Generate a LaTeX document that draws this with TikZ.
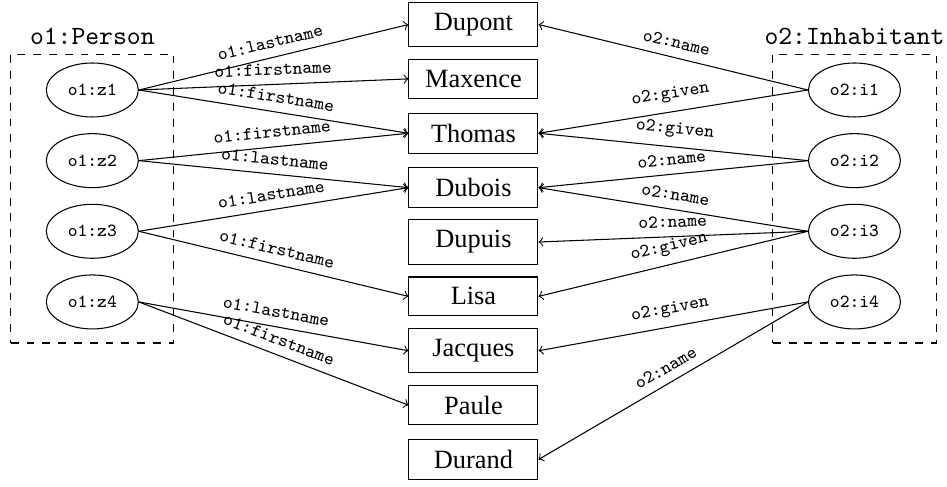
\documentclass[tikz,border=0pt]{standalone}
\usepackage{fontspec}
\setmainfont{Liberation Serif}
\usetikzlibrary{shapes}

\begin{document}
\begin{tikzpicture}
\tikzstyle{val}=[rectangle,draw,minimum width=1.72cm,inner sep=4pt]
\tikzstyle{res}=[ellipse,draw,minimum width=1.227cm,minimum height=0.72cm,inner sep=1pt,font=\ttfamily\scriptsize]
\tikzstyle{group}=[rectangle,draw,dashed,minimum width=2.177cm,minimum height=3.853cm]
\tikzstyle{prop}=[font=\ttfamily\scriptsize,sloped,above,midway]
\useasboundingbox (0,0) rectangle (12.627,-6.493);
\foreach \n [count=\i] in {Dupont,Maxence,Thomas,Dubois,Dupuis,Lisa,Jacques,Paule,Durand}
  \node[val] (\n) at (6.313,{-0.327-0.725*(\i-1)}) {\n};
\foreach \i in {1,...,4}{
  \node[res] (z\i) at (1.231,{-1.2-0.942*(\i-1)}) {o1:z\i};
  \node[res] (i\i) at (11.393,{-1.2-0.942*(\i-1)}) {o2:i\i};
}
\node[group] (person) at (1.231,-2.647) {};
\node[group] (inhabitant) at (11.393,-2.647) {};
\node[above,font=\ttfamily] (personlbl) at (person.north) {o1:Person};
\node[above,font=\ttfamily] (inhabitantlbl) at (inhabitant.north) {o2:Inhabitant};
\draw[->] (z1.east) -- node[prop] {o1:lastname} (Dupont.west);
\draw[->] (z1.east) -- node[prop] {o1:firstname} (Maxence.west);
\draw[->] (z1.east) -- node[prop] {o1:firstname} (Thomas.west);
\draw[->] (z2.east) -- node[prop] {o1:firstname} (Thomas.west);
\draw[->] (z2.east) -- node[prop] {o1:lastname} (Dubois.west);
\draw[->] (z3.east) -- node[prop] {o1:lastname} (Dubois.west);
\draw[->] (z3.east) -- node[prop] {o1:firstname} (Lisa.west);
\draw[->] (z4.east) -- node[prop] {o1:lastname} (Jacques.west);
\draw[->] (z4.east) -- node[prop] {o1:firstname} (Paule.west);
\draw[->] (i1.west) -- node[prop] {o2:name} (Dupont.east);
\draw[->] (i1.west) -- node[prop] {o2:given} (Thomas.east);
\draw[->] (i2.west) -- node[prop] {o2:given} (Thomas.east);
\draw[->] (i2.west) -- node[prop] {o2:name} (Dubois.east);
\draw[->] (i3.west) -- node[prop] {o2:name} (Dubois.east);
\draw[->] (i3.west) -- node[prop] {o2:name} (Dupuis.east);
\draw[->] (i3.west) -- node[prop] {o2:given} (Lisa.east);
\draw[->] (i4.west) -- node[prop] {o2:given} (Jacques.east);
\draw[->] (i4.west) -- node[prop] {o2:name} (Durand.east);
\end{tikzpicture}
\end{document}
